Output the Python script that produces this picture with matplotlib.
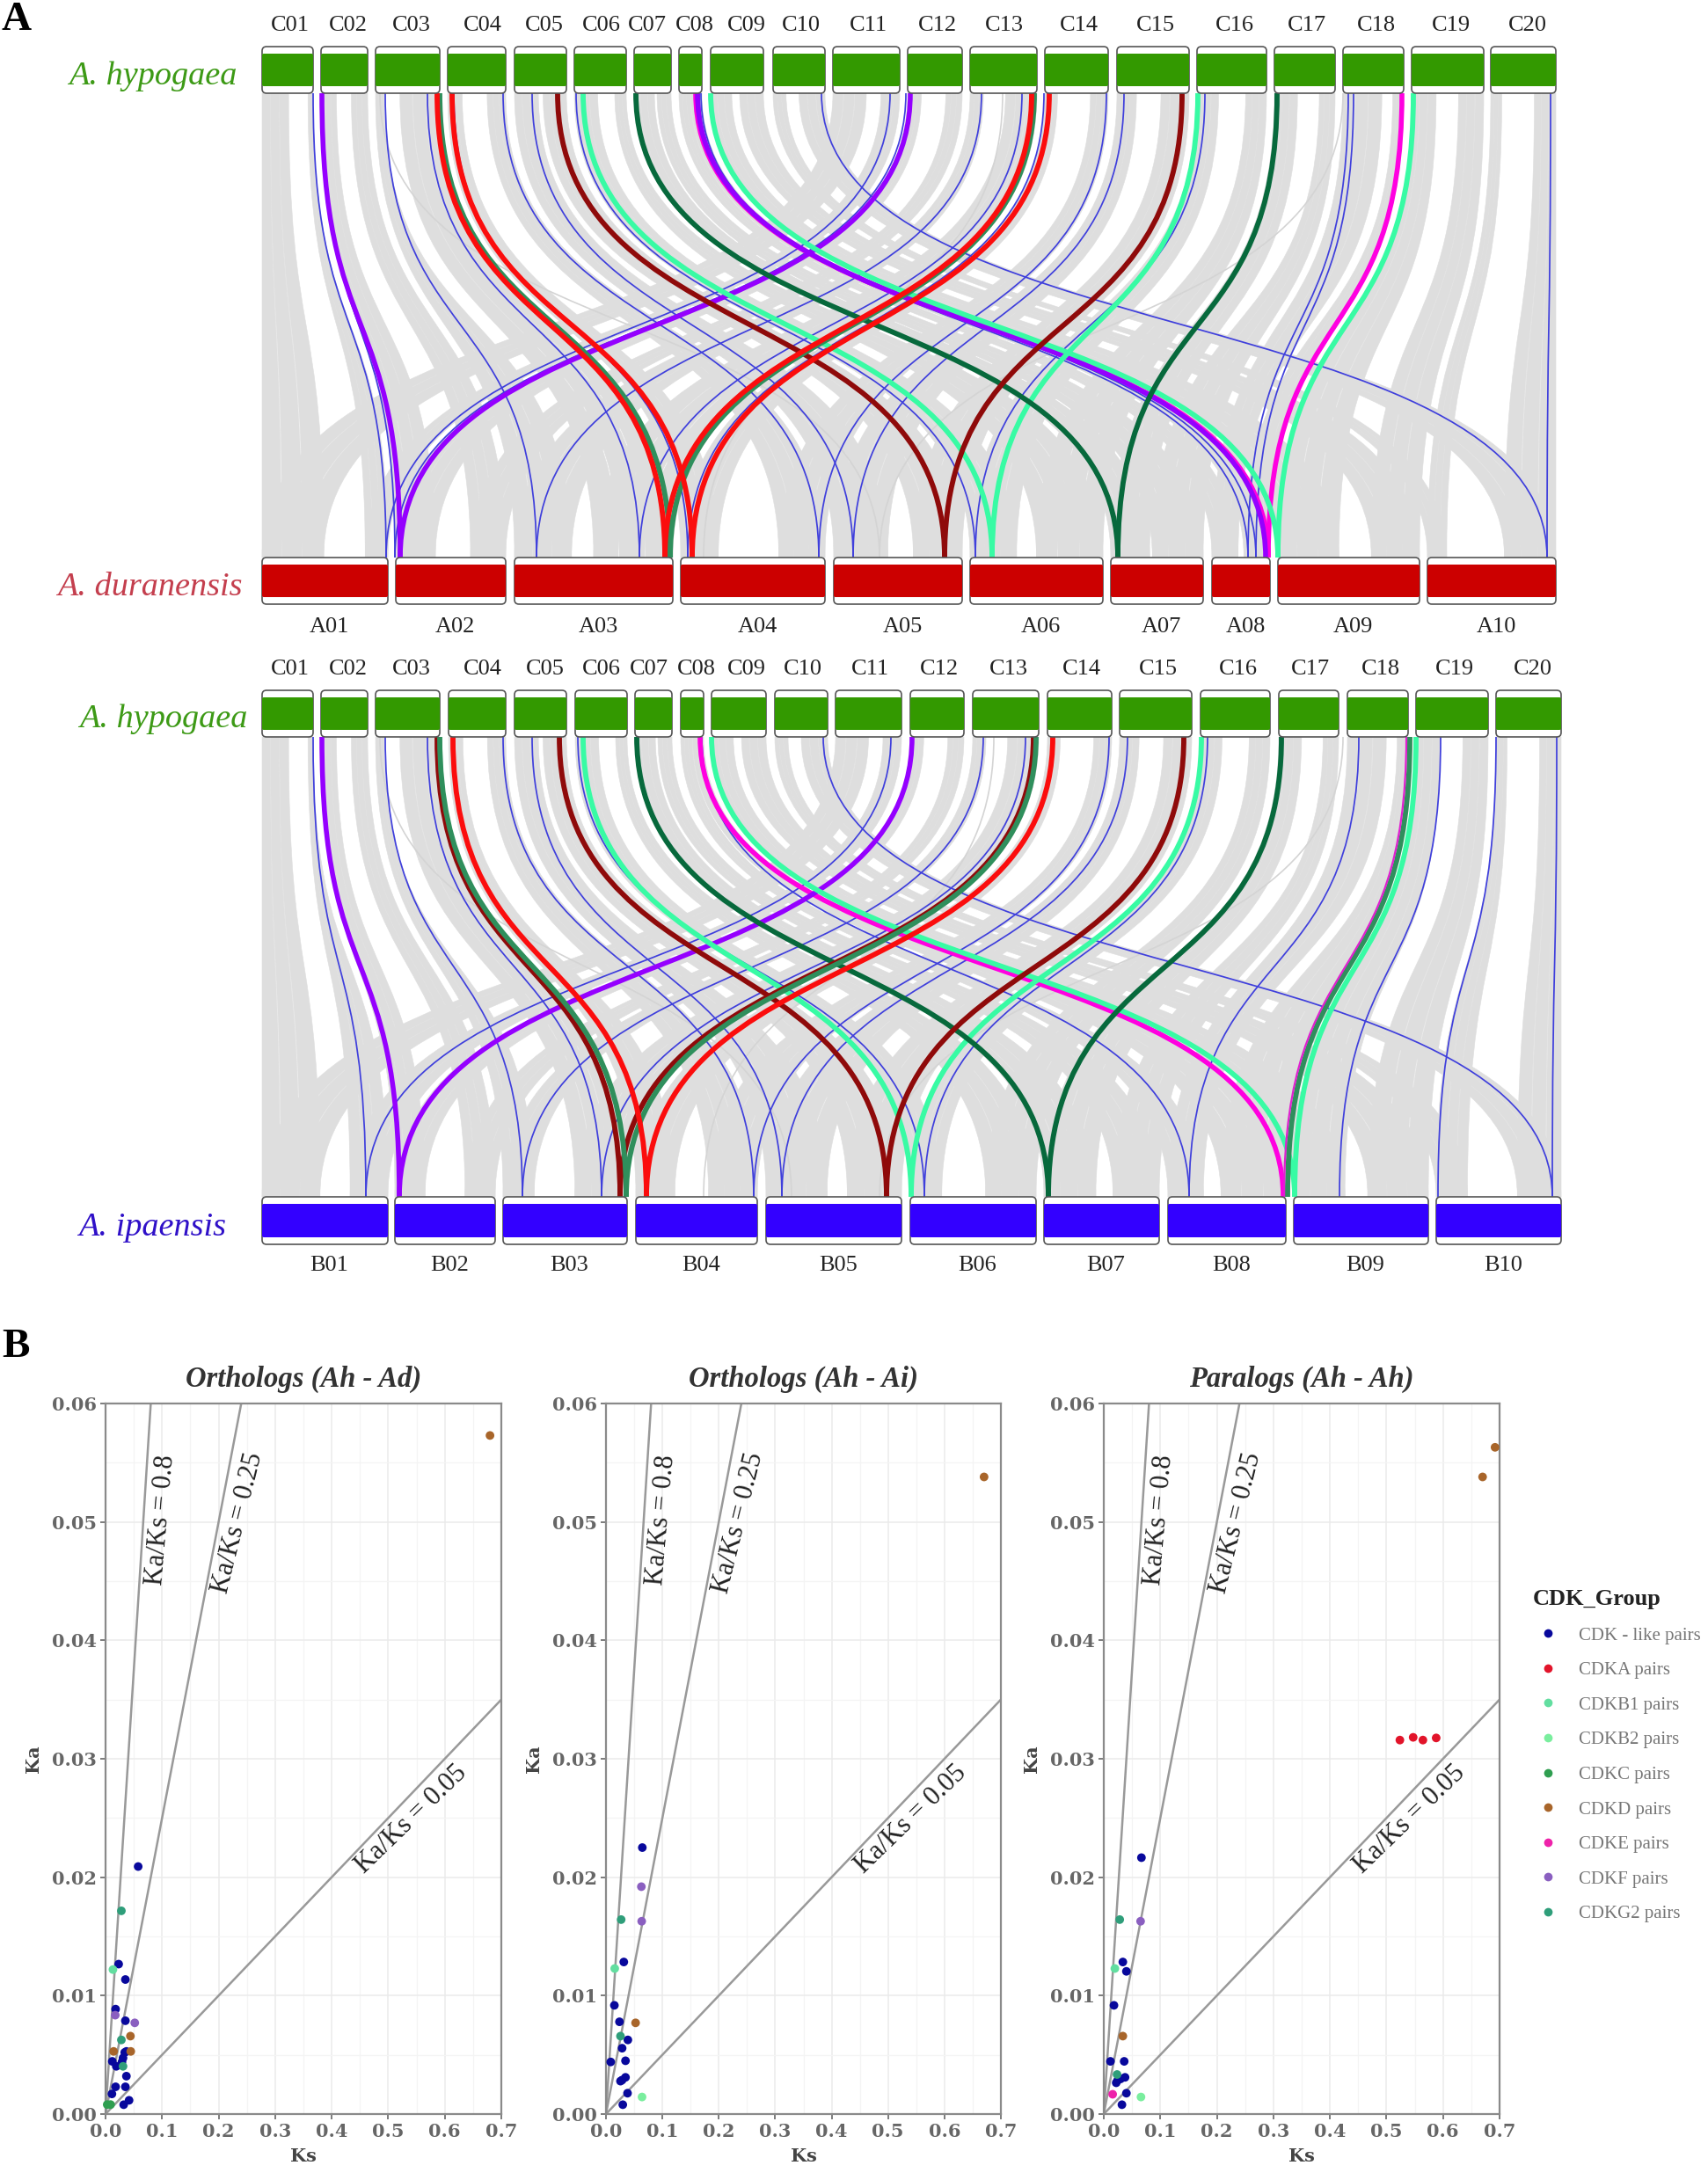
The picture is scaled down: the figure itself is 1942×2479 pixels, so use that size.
import matplotlib
matplotlib.use("Agg")
import matplotlib.pyplot as plt
from matplotlib.path import Path
from matplotlib.patches import PathPatch, FancyBboxPatch
from matplotlib.lines import Line2D

W, H = 1942, 2479

# ---------- Panel A data ----------
c_names = [f"C{i:02d}" for i in range(1, 21)]
a_names = [f"A{i:02d}" for i in range(1, 11)]
b_names = [f"B{i:02d}" for i in range(1, 11)]

c_spans_1 = [(298, 356), (365, 418), (427, 500), (509, 575), (585, 644), (653, 712), (721, 763), (772, 798),
             (808, 868), (879, 938), (947, 1023), (1032, 1094), (1103, 1179), (1188, 1260), (1270, 1352),
             (1361, 1440), (1449, 1518), (1527, 1596), (1605, 1687), (1695, 1769)]
a_spans = [(298, 441), (450, 575), (585, 765), (774, 938), (948, 1094), (1103, 1254), (1263, 1368),
           (1378, 1444), (1453, 1614), (1623, 1769)]
c_spans_2 = [(298, 356), (365, 418), (427, 500), (510, 575), (585, 644), (654, 713), (722, 764), (774, 800),
             (809, 871), (881, 941), (950, 1025), (1035, 1096), (1106, 1181), (1191, 1264), (1273, 1355),
             (1365, 1444), (1454, 1522), (1532, 1601), (1610, 1692), (1701, 1775)]
b_spans = [(298, 441), (449, 563), (572, 713), (723, 861), (871, 1025), (1035, 1178), (1187, 1318),
           (1328, 1462), (1471, 1624), (1633, 1775)]
c_label_x_1 = [330, 396, 468, 549, 619, 684, 736, 790, 849, 911, 987, 1066, 1142, 1227, 1314, 1404, 1486, 1565,
               1650, 1737]
c_label_x_2 = [330, 396, 468, 549, 620, 684, 738, 792, 849, 913, 989, 1068, 1147, 1230, 1317, 1408, 1490, 1570,
               1654, 1743]

# syntenic arms, as fractions along each chromosome: (left arm end, right arm start)
c_arms = [(.52, .90), (.33, .65), (.13, .38), (.25, .68), (.46, .55), (.45, .78), (.55, .62), (.5, .52),
          (.4, .55), (.25, .5), (.5, .72), (.25, .7), (.2, .53), (.2, .72), (.27, .61), (.31, .7),
          (.38, .74), (.64, .82), (.34, .65), (.17, .67)]
a_arms = [(.49, .82), (.36, .68), (.36, .5), (.26, .68), (.42, .62), (.35, .5), (.42, .45), (.45, .55),
          (.43, .66), (.15, .6)]
b_arms = [(.46, .7), (.3, .7), (.25, .58), (.32, .6), (.45, .6), (.25, .6), (.45, .6), (.3, .45),
          (.38, .55), (.25, .65)]
strips = [(0, .31), (.325, .645), (.66, 1)]

# gene pair links: (x on top chromosome track, x on bottom chromosome track)
p1_blue = [(356, 439), (1012, 439), (438, 610), (1116, 610), (486, 727), (1162, 727), (572, 931), (1258, 931),
           (605, 970), (1278, 970), (655, 1109), (1370, 1109), (795, 1419), (1533, 1419), (797, 1428),
           (1539, 1428), (934, 1759), (1763, 1759), (516, 782), (1187, 782), (367, 449), (1030, 449)]
p1_purple = [(366, 455), (1035, 455), (793, 1439)]
p1_red = [(514, 787), (1193, 787), (497, 756), (1173, 756)]
p1_seagreen = [(500, 762), (1176, 762)]
p1_darkred = [(634, 1074), (1344, 1074)]
p1_spring = [(663, 1128), (1362, 1128), (808, 1453), (1607, 1453)]
p1_darkgreen = [(723, 1271), (1452, 1271)]
p1_magenta = [(1594, 1442), (791, 1442)]
p1_grey = [(432, 1000), (1527, 1000), (1140, 800)]

p2_blue = [(356, 416), (1013, 416), (438, 594), (1118, 594), (486, 684), (1166, 684), (572, 857), (1261, 857),
           (605, 889), (1282, 889), (657, 1051), (1373, 1051), (798, 1352), (1545, 1352), (936, 1765),
           (1770, 1765), (1638, 1523), (1701, 1635)]
p2_purple = [(366, 454), (1037, 454)]
p2_red = [(515, 735), (1197, 735)]
p2_seagreen = [(500, 712), (1178, 712), (1603, 1464)]
p2_darkred = [(497, 705), (1175, 705), (636, 1008), (1346, 1008)]
p2_spring = [(663, 1036), (1366, 1036), (809, 1472), (1610, 1472)]
p2_darkgreen = [(724, 1192), (1457, 1192)]
p2_magenta = [(796, 1459)]
p2_magenta_thin = [(1599, 1460)]
p2_grey = [(432, 900), (1527, 1000), (1130, 800)]

# ---------- Panel B data ----------
panel_titles = ["Orthologs (Ah - Ad)", "Orthologs (Ah - Ai)", "Paralogs (Ah - Ah)"]
groups = ["CDK - like pairs", "CDKA pairs", "CDKB1 pairs", "CDKB2 pairs", "CDKC pairs",
          "CDKD pairs", "CDKE pairs", "CDKF pairs", "CDKG2 pairs"]
group_colors = ["#08089c", "#e2142a", "#62dea0", "#7aee9e", "#2f9e50", "#a8652a", "#ee22aa", "#8a5fc0", "#2f9e7a"]

ad_points = {
    "CDK - like pairs": ([.0577, .0232, .0351, .0178, .0351, .0119, .019, .0291, .0339, .0369, .0309, .0369,
                          .0178, .0351, .0113, .0416, .0321],
                         [.0209, .01266, .01136, .00886, .00788, .00445, .00403, .0044, .0052, .00529, .00473,
                          .0032, .0023, .0023, .0017, .00116, .00079]),
    "CDKB1 pairs": ([.0131], [.0122]),
    "CDKC pairs": ([.0089, .003], [.0008, .0008]),
    "CDKD pairs": ([.680, .044, .0143, .0446], [.0573, .00658, .00529, .00529]),
    "CDKF pairs": ([.0517, .0172], [.0077, .00835]),
    "CDKG2 pairs": ([.028, .028, .0309], [.01716, .00626, .00403]),
}
ai_points = {
    "CDK - like pairs": ([.0644, .0316, .0149, .0239, .0388, .0286, .0084, .0346, .0346, .0286, .0257, .0382, .0298],
                         [.0225, .01284, .00918, .00779, .00626, .00556, .0044, .0045, .0031, .00287, .00278,
                          .00176, .00079]),
    "CDKB1 pairs": ([.0155], [.01229]),
    "CDKB2 pairs": ([.0639], [.00144]),
    "CDKD pairs": ([.6702, .0525], [.0538, .0077]),
    "CDKF pairs": ([.0627, .0633], [.0192, .01628]),
    "CDKG2 pairs": ([.0269, .0257], [.01642, .00658]),
}
ah_points = {
    "CDK - like pairs": ([.0666, .0337, .04, .018, .0118, .0361, .0376, .0298, .0243, .022, .04, .0321],
                         [.02165, .01284, .01205, .00918, .00445, .00445, .0031, .00297, .00283, .00264, .00176,
                          .00079]),
    "CDKA pairs": ([.5237, .5472, .5644, .5879], [.03158, .03181, .03158, .03176]),
    "CDKB1 pairs": ([.0196], [.01229]),
    "CDKB2 pairs": ([.0658], [.00144]),
    "CDKD pairs": ([.692, .67, .0337], [.0563, .0538, .00658]),
    "CDKE pairs": ([.0157], [.00167]),
    "CDKF pairs": ([.0651], [.01628]),
    "CDKG2 pairs": ([.0282, .0235], [.01642, .00334]),
}
ratio_lines = [0.75, 0.25, 0.05]
ratio_labels = ["Ka/Ks = 0.8", "Ka/Ks = 0.25", "Ka/Ks = 0.05"]
xticks = [0, .1, .2, .3, .4, .5, .6, .7]
yticks = [0, .01, .02, .03, .04, .05, .06]

# ---------- drawing ----------
SERIF = "Liberation Serif"
plt.rcParams["font.family"] = SERIF
fig = plt.figure(figsize=(W / 100, H / 100), dpi=100, facecolor="white")
ov = fig.add_axes([0, 0, 1, 1])
ov.set_xlim(0, W)
ov.set_ylim(H, 0)
ov.axis("off")

C_CTRL = 0.56


def curve_verts(x0, y0, x1, y1):
    h = y1 - y0
    return [(x0, y0), (x0, y0 + C_CTRL * h), (x1, y1 - C_CTRL * h), (x1, y1)]


def ribbon(t0, t1, b0, b1, y0, y1, color="#dedede", z=1):
    v1 = curve_verts(t0, y0, b0, y1)
    v2 = curve_verts(b1, y1, t1, y0)
    verts = v1 + [(b1, y1)] + v2[1:] + [(t0, y0)]
    codes = [Path.MOVETO, Path.CURVE4, Path.CURVE4, Path.CURVE4, Path.LINETO,
             Path.CURVE4, Path.CURVE4, Path.CURVE4, Path.CLOSEPOLY]
    ov.add_patch(PathPatch(Path(verts, codes), fc=color, ec=color, lw=0.4, zorder=z))


def link(xt, xb, y0, y1, color, lw, z):
    codes = [Path.MOVETO, Path.CURVE4, Path.CURVE4, Path.CURVE4]
    ov.add_patch(PathPatch(Path(curve_verts(xt, y0, xb, y1), codes), fc="none", ec=color, lw=lw, zorder=z,
                           capstyle="butt"))


def arm_range(span, arms, side):
    a, b = span
    w = b - a
    return (a, a + arms[0] * w) if side == 0 else (a + arms[1] * w, b)


def synteny(c_spans, bot_spans, bot_arms, y0, y1):
    for i, (span, arms) in enumerate(zip(c_spans, c_arms)):
        j = i % 10
        for side in (0, 1):
            t0, t1 = arm_range(span, arms, side)
            b0, b1 = arm_range(bot_spans[j], bot_arms[j], side)
            for s0, s1 in strips:
                ribbon(t0 + (t1 - t0) * s0, t0 + (t1 - t0) * s1, b0 + (b1 - b0) * s0, b0 + (b1 - b0) * s1, y0, y1)


def chrom(span, y0, y1, color):
    x0, x1 = span
    ov.add_patch(FancyBboxPatch((x0 + 3, y0 + 3), x1 - x0 - 6, y1 - y0 - 6, boxstyle="round,pad=3,rounding_size=5",
                                fc="white", ec="#555555", lw=1.2, zorder=5))
    ov.add_patch(FancyBboxPatch((x0 + 2, y0 + 10), x1 - x0 - 4, y1 - y0 - 20, boxstyle="round,pad=2,rounding_size=2",
                                fc=color, ec="none", zorder=6))


def links(spec, y0, y1, mag_thin=()):
    blue, purple, red, sea, dred, spring, dgreen, mag, grey = spec
    for t, b in grey:
        link(t, b, y0, y1, "#d4d4d4", 1.2, 2)
    for t, b in blue:
        link(t, b, y0, y1, "#3f3fdc", 1.25, 3)
    for t, b in mag:
        link(t, b, y0, y1, "#ff00e0", 4, 4)
    for t, b in purple:
        link(t, b, y0, y1, "#9500ff", 4, 4)
    for t, b in spring:
        link(t, b, y0, y1, "#38fba4", 4.2, 4)
    for t, b in dgreen:
        link(t, b, y0, y1, "#07693c", 4.2, 4)
    for t, b in dred:
        link(t, b, y0, y1, "#8f0a0a", 4.2, 4)
    for t, b in red:
        link(t, b, y0, y1, "#fb0d0d", 4.2, 4.2)
    for t, b in sea:
        link(t, b, y0, y1, "#2f8f5c", 4.2, 4.1)
    for t, b in mag_thin:
        link(t, b, y0, y1, "#e020d0", 1.6, 4.3)


def labels(names, xs, y, size=19):
    for n, x in zip(names, xs):
        ov.text(x, y, n, ha="center", va="center", fontsize=size, color="#222222")


GREEN, RED, BLUE = "#339900", "#cc0000", "#3300ff"
# first comparison
synteny(c_spans_1, a_spans, a_arms, 106, 634)
links((p1_blue, p1_purple, p1_red, p1_seagreen, p1_darkred, p1_spring, p1_darkgreen, p1_magenta, p1_grey), 106, 634)
for s in c_spans_1:
    chrom(s, 53, 106, GREEN)
for s in a_spans:
    chrom(s, 634, 687, RED)
labels(c_names, c_label_x_1, 29)
labels(a_names, [(a + b) / 2 + 5 for a, b in a_spans], 713)
# second comparison
synteny(c_spans_2, b_spans, b_arms, 838, 1361)
links((p2_blue, p2_purple, p2_red, p2_seagreen, p2_darkred, p2_spring, p2_darkgreen, p2_magenta, p2_grey), 838, 1361,
      mag_thin=p2_magenta_thin)
for s in c_spans_2:
    chrom(s, 785, 838, GREEN)
for s in b_spans:
    chrom(s, 1361, 1415, BLUE)
labels(c_names, c_label_x_2, 761)
labels(b_names, [(a + b) / 2 + 5 for a, b in b_spans], 1439)

sp = dict(style="italic", va="center", fontsize=27.5)
ov.text(269, 87, "A. hypogaea", ha="right", color="#3d9a16", **sp)
ov.text(276, 668, "A. duranensis", ha="right", color="#c43f4e", **sp)
ov.text(281, 818, "A. hypogaea", ha="right", color="#3d9a16", **sp)
ov.text(257, 1396, "A. ipaensis", ha="right", color="#2f10c8", **sp)
ov.text(2, 23, "A", fontsize=34, fontweight="bold", va="center", ha="left", color="black")
ov.text(2, 1532, "B", fontsize=34, fontweight="bold", va="center", ha="left", color="black")

# panel B
ax_x = [(120, 570), (689, 1138), (1255, 1705)]
ax_top, ax_bot = 1596, 2404
pt_sets = [ad_points, ai_points, ah_points]
label_pos = [(.0985, .0502, 85), (.2345, .0499, 76), (.541, .0249, 44)]
TICK = dict(family="DejaVu Serif", fontweight="bold", color="#666666", fontsize=15)
color_of = dict(zip(groups, group_colors))

for k, (x0, x1) in enumerate(ax_x):
    ax = fig.add_axes([x0 / W, 1 - ax_bot / H, (x1 - x0) / W, (ax_bot - ax_top) / H])
    ax.patch.set_alpha(0)
    ax.set_xlim(0, .7)
    ax.set_ylim(0, .06)
    ax.set_xticks(xticks)
    ax.set_yticks(yticks)
    ax.set_xticks([v + .05 for v in xticks[:-1]], minor=True)
    ax.set_yticks([v + .005 for v in yticks[:-1]], minor=True)
    ax.grid(True, which="major", color="#ebebeb", lw=1.1)
    ax.grid(True, which="minor", color="#f4f4f4", lw=0.9)
    ax.set_axisbelow(True)
    ax.tick_params(which="minor", length=0)
    ax.tick_params(which="major", length=4, width=1.2, color="#666666", pad=3)
    ax.set_xticklabels([f"{v:.1f}" for v in xticks], **TICK)
    ax.set_yticklabels([f"{v:.2f}" for v in yticks], **TICK)
    for s in ax.spines.values():
        s.set_color("#8a8a8a")
        s.set_linewidth(1.6)
    for r in ratio_lines:
        ax.plot([0, min(.7, .06 / r)], [0, min(.7 * r, .06)], color="#999999", lw=1.8, zorder=2, clip_on=True)
    for (tx, ty, rot), s in zip(label_pos, ratio_labels):
        ax.text(tx, ty, s, rotation=rot, rotation_mode="anchor", ha="center", va="center", fontsize=22,
                color="#222222", zorder=3)
    for g in groups:
        if g in pt_sets[k]:
            xs, ys = pt_sets[k][g]
            ax.scatter(xs, ys, s=50, color=color_of[g], edgecolor="none", zorder=4, clip_on=False)
    ax.set_xlabel("Ks", family="DejaVu Serif", fontweight="bold", fontsize=15, color="#444444", labelpad=6)
    ax.set_ylabel("Ka", family="DejaVu Serif", fontweight="bold", fontsize=15, color="#444444", labelpad=8)
    ax.set_title(panel_titles[k], fontsize=23.5, fontweight="bold", style="italic", color="#333333", pad=14)

handles = [Line2D([], [], ls="", marker="o", ms=7, mfc=c, mec="none", label=g) for g, c in zip(groups, group_colors)]
leg = fig.legend(handles=handles, loc="upper left", bbox_to_anchor=(1743 / W, 1 - 1807 / H),
                 frameon=False, title="CDK_Group", fontsize=15, labelspacing=0.96, handletextpad=0.9,
                 handlelength=1.6, borderpad=0, borderaxespad=0, labelcolor="#777777",
                 title_fontproperties=dict(family=SERIF, weight="bold", size=19))
leg._legend_box.align = "left"
leg.get_title().set_color("#222222")

fig.savefig("out.png", dpi=100)
